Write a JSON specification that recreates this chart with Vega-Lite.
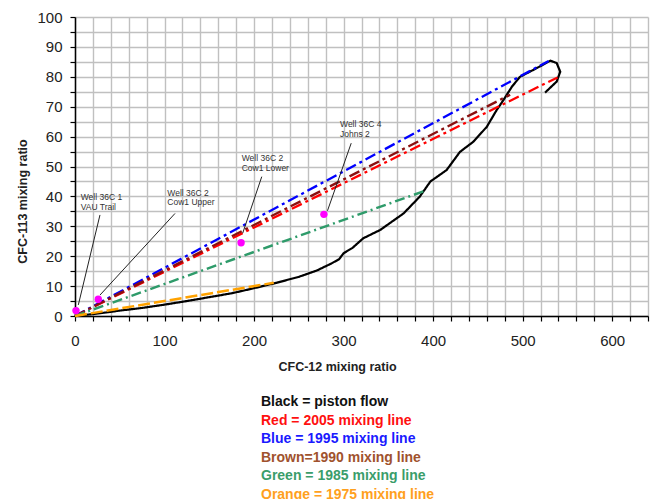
{
  "$schema": "https://vega.github.io/schema/vega-lite/v6.json",
  "autosize": {"type": "none"},
  "width": 573,
  "height": 299,
  "padding": {"left": 75, "top": 17, "right": 3, "bottom": 183},
  "background": "white",
  "config": {
    "view": {"stroke": null},
    "font": "Liberation Sans"
  },
  "datasets": {
    "lines": [
      {"s": "Black = piston flow", "o": 0, "x": 0, "y": 0},
      {"s": "Black = piston flow", "o": 1, "x": 10, "y": 0.3},
      {"s": "Black = piston flow", "o": 2, "x": 30, "y": 1.0},
      {"s": "Black = piston flow", "o": 3, "x": 50, "y": 1.8},
      {"s": "Black = piston flow", "o": 4, "x": 75, "y": 2.7},
      {"s": "Black = piston flow", "o": 5, "x": 100, "y": 3.8},
      {"s": "Black = piston flow", "o": 6, "x": 125, "y": 5.0},
      {"s": "Black = piston flow", "o": 7, "x": 150, "y": 6.3},
      {"s": "Black = piston flow", "o": 8, "x": 175, "y": 7.6},
      {"s": "Black = piston flow", "o": 9, "x": 200, "y": 9.3},
      {"s": "Black = piston flow", "o": 10, "x": 225, "y": 11.1},
      {"s": "Black = piston flow", "o": 11, "x": 250, "y": 13.1},
      {"s": "Black = piston flow", "o": 12, "x": 270, "y": 15.2},
      {"s": "Black = piston flow", "o": 13, "x": 286, "y": 17.5},
      {"s": "Black = piston flow", "o": 14, "x": 295, "y": 19.0},
      {"s": "Black = piston flow", "o": 15, "x": 300, "y": 21.0},
      {"s": "Black = piston flow", "o": 16, "x": 310, "y": 22.8},
      {"s": "Black = piston flow", "o": 17, "x": 322, "y": 26.0},
      {"s": "Black = piston flow", "o": 18, "x": 341, "y": 28.8},
      {"s": "Black = piston flow", "o": 19, "x": 367, "y": 34.3},
      {"s": "Black = piston flow", "o": 20, "x": 385, "y": 39.9},
      {"s": "Black = piston flow", "o": 21, "x": 397, "y": 45.0},
      {"s": "Black = piston flow", "o": 22, "x": 415, "y": 48.8},
      {"s": "Black = piston flow", "o": 23, "x": 430, "y": 54.9},
      {"s": "Black = piston flow", "o": 24, "x": 445, "y": 58.3},
      {"s": "Black = piston flow", "o": 25, "x": 460, "y": 63.3},
      {"s": "Black = piston flow", "o": 26, "x": 471, "y": 68.9},
      {"s": "Black = piston flow", "o": 27, "x": 478.5, "y": 72.2},
      {"s": "Black = piston flow", "o": 28, "x": 488, "y": 76.7},
      {"s": "Black = piston flow", "o": 29, "x": 497, "y": 80.0},
      {"s": "Black = piston flow", "o": 30, "x": 508, "y": 81.7},
      {"s": "Black = piston flow", "o": 31, "x": 520, "y": 83.6},
      {"s": "Black = piston flow", "o": 32, "x": 531, "y": 85.4},
      {"s": "Black = piston flow", "o": 33, "x": 538, "y": 84.6},
      {"s": "Black = piston flow", "o": 34, "x": 542, "y": 81.7},
      {"s": "Black = piston flow", "o": 35, "x": 538, "y": 78.4},
      {"s": "Black = piston flow", "o": 36, "x": 525, "y": 74.7},
      {"s": "Red = 2005 mixing line", "o": 0, "x": 0, "y": 0},
      {"s": "Red = 2005 mixing line", "o": 1, "x": 539, "y": 79.8},
      {"s": "Blue = 1995 mixing line", "o": 0, "x": 0, "y": 0},
      {"s": "Blue = 1995 mixing line", "o": 1, "x": 529, "y": 85.3},
      {"s": "Brown=1990 mixing line", "o": 0, "x": 0, "y": 0},
      {"s": "Brown=1990 mixing line", "o": 1, "x": 486, "y": 74.0},
      {"s": "Green = 1985 mixing line", "o": 0, "x": 0, "y": 0},
      {"s": "Green = 1985 mixing line", "o": 1, "x": 393, "y": 42.1},
      {"s": "Orange = 1975 mixing line", "o": 0, "x": 0, "y": 0},
      {"s": "Orange = 1975 mixing line", "o": 1, "x": 222, "y": 11.1}
    ],
    "points": [
      {"x": 1.1, "y": 1.8},
      {"x": 26, "y": 5.6},
      {"x": 185.5, "y": 24.5},
      {"x": 278, "y": 34.0}
    ],
    "leaders": [
      {"x": 27.9, "y": 33.8, "xe": 3.7, "ye": 3.7},
      {"x": 111.7, "y": 34.3, "xe": 27.9, "ye": 7.0},
      {"x": 208.6, "y": 46.6, "xe": 187.3, "ye": 27.7},
      {"x": 308.5, "y": 57.8, "xe": 282, "ye": 35.2}
    ],
    "labels": [
      {"label": "Well 36C  1\nVAU Trail", "x": 6.4, "y": 39.7},
      {"label": "Well 36C  2\nCow1   Upper", "x": 103.1, "y": 41.2},
      {"label": "Well 36C  2\nCow1   Lower", "x": 186.2, "y": 52.7},
      {"label": "Well 36C  4\nJohns 2", "x": 296, "y": 64.2}
    ]
  },
  "encoding": {
    "x": {
      "field": "x", "type": "quantitative",
      "scale": {"domain": [0, 640], "nice": false, "zero": false},
      "axis": {
        "values": [0,20,40,60,80,100,120,140,160,180,200,220,240,260,280,300,320,340,360,380,400,420,440,460,480,500,520,540,560,580,600,620,640],
        "labelExpr": "datum.value % 100 === 0 ? datum.label : ''",
        "title": "CFC-12 mixing ratio",
        "titleFontSize": 12.5,
        "titleFontWeight": "bold",
        "titleColor": "#222",
        "titleX": 262,
        "titleY": 50,
        "titleBaseline": "middle",
        "labelFontSize": 15,
        "labelColor": "#222",
        "labelPadding": 12,
        "labelFlush": false,
        "labelOverlap": false,
        "tickSize": 5,
        "tickColor": "#000",
        "tickWidth": 1.2,
        "domainColor": "#000",
        "domainWidth": 1.5,
        "grid": true,
        "gridColor": "#c0c0c0",
        "gridWidth": 1.4
      }
    },
    "y": {
      "field": "y", "type": "quantitative",
      "scale": {"domain": [0, 100], "nice": false},
      "axis": {
        "values": [0,5,10,15,20,25,30,35,40,45,50,55,60,65,70,75,80,85,90,95,100],
        "labelExpr": "datum.value % 10 === 0 ? datum.label : ''",
        "title": "CFC-113 mixing ratio",
        "titleFontSize": 12.5,
        "titleFontWeight": "bold",
        "titleColor": "#222",
        "titleX": -53,
        "titleY": 184,
        "titleAngle": -90,
        "titleBaseline": "middle",
        "titleAlign": "center",
        "labelFontSize": 15,
        "labelColor": "#222",
        "labelPadding": 8,
        "labelOverlap": false,
        "labelFlush": false,
        "tickSize": 5,
        "tickColor": "#000",
        "tickWidth": 1.2,
        "domainColor": "#000",
        "domainWidth": 1.5,
        "grid": true,
        "gridColor": "#c0c0c0",
        "gridWidth": 1.4
      }
    }
  },
  "layer": [
    {
      "data": {"name": "lines"},
      "mark": {"type": "line", "clip": false},
      "encoding": {
        "order": {"field": "o", "type": "quantitative"},
        "color": {
          "field": "s", "type": "nominal",
          "scale": {
            "domain": ["Black = piston flow", "Red = 2005 mixing line", "Blue = 1995 mixing line", "Brown=1990 mixing line", "Green = 1985 mixing line", "Orange = 1975 mixing line"],
            "range": ["#000000", "#ff0000", "#0000ff", "#8b1010", "#2e9b6a", "#ffa200"]
          },
          "legend": {
            "orient": "none",
            "legendX": 172,
            "legendY": 378,
            "direction": "vertical",
            "title": null,
            "symbolSize": 0,
            "symbolOpacity": 0,
            "symbolStrokeWidth": 0,
            "labelOffset": 0,
            "labelFontSize": 14,
            "labelFontWeight": "bold",
            "labelLimit": 400,
            "rowPadding": 4.5,
            "encode": {
              "labels": {
                "update": {
                  "fill": {"signal": "datum.value === 'Brown=1990 mixing line' ? '#a0522d' : datum.value === 'Blue = 1995 mixing line' ? '#1a1aff' : datum.value === 'Green = 1985 mixing line' ? '#3a9d6a' : datum.value === 'Orange = 1975 mixing line' ? '#ffa020' : datum.value === 'Red = 2005 mixing line' ? '#ff1010' : '#111111'"}
                }
              }
            }
          }
        },
        "strokeDash": {
          "field": "s", "type": "nominal",
          "scale": {
            "domain": ["Black = piston flow", "Red = 2005 mixing line", "Blue = 1995 mixing line", "Brown=1990 mixing line", "Green = 1985 mixing line", "Orange = 1975 mixing line"],
            "range": [[1, 0], [11, 4, 3, 4], [11, 4, 3, 4], [11, 4, 3, 4], [10, 4, 2, 4], [12, 4]]
          },
          "legend": null
        },
        "strokeWidth": {
          "field": "s", "type": "nominal",
          "scale": {
            "domain": ["Black = piston flow", "Red = 2005 mixing line", "Blue = 1995 mixing line", "Brown=1990 mixing line", "Green = 1985 mixing line", "Orange = 1975 mixing line"],
            "range": [2.2, 2.5, 2.5, 2.5, 1.7, 2.6]
          },
          "legend": null
        }
      }
    },
    {
      "data": {"name": "leaders"},
      "mark": {"type": "rule", "color": "#222", "strokeWidth": 1},
      "encoding": {
        "x2": {"field": "xe"},
        "y2": {"field": "ye"}
      }
    },
    {
      "data": {"name": "points"},
      "mark": {"type": "point", "filled": true, "color": "#ff00ff", "size": 55, "opacity": 1, "clip": false},
      "encoding": {}
    },
    {
      "data": {"name": "labels"},
      "mark": {"type": "text", "align": "left", "baseline": "middle", "lineBreak": "\n", "lineHeight": 9.5, "fontSize": 8.5, "color": "#333"},
      "encoding": {
        "text": {"field": "label"}
      }
    }
  ]
}
